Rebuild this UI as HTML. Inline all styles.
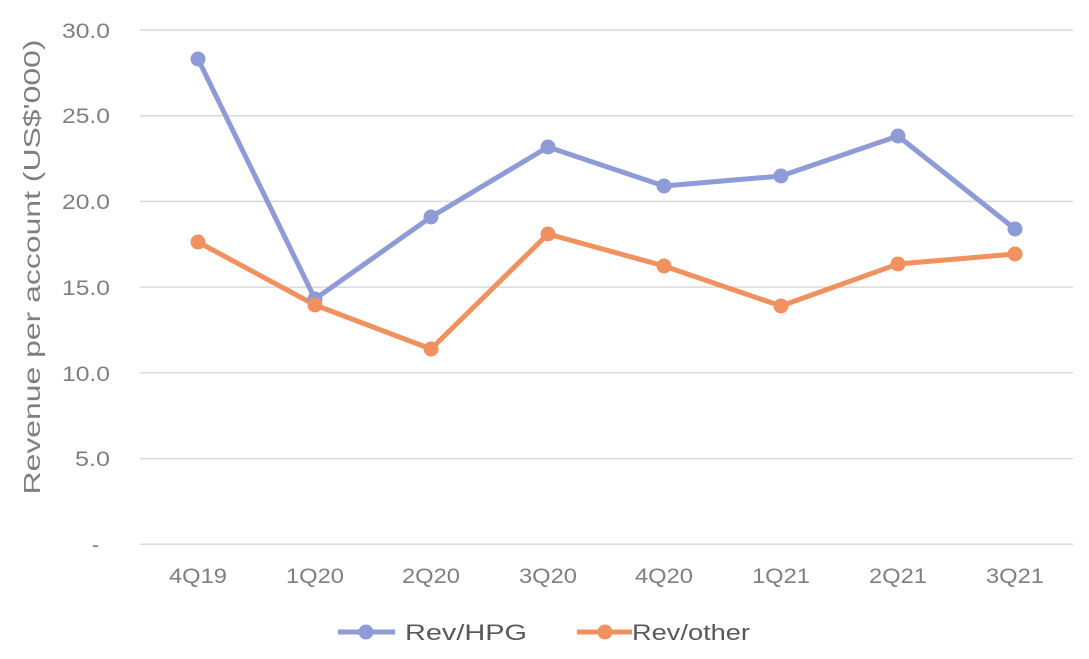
<!DOCTYPE html>
<html><head><meta charset="utf-8"><style>
html,body{margin:0;padding:0;background:#fff;}
svg{display:block;font-family:"Liberation Sans",Arial,sans-serif;}
</style></head><body>
<svg width="1089" height="659" viewBox="0 0 1089 659">
<g stroke="#d9d9d9" stroke-width="1.5">
<line x1="140" x2="1073" y1="30" y2="30"/>
<line x1="140" x2="1073" y1="115.7" y2="115.7"/>
<line x1="140" x2="1073" y1="201.4" y2="201.4"/>
<line x1="140" x2="1073" y1="287.1" y2="287.1"/>
<line x1="140" x2="1073" y1="372.9" y2="372.9"/>
<line x1="140" x2="1073" y1="458.6" y2="458.6"/>
<line x1="140" x2="1073" y1="544.3" y2="544.3"/>
</g>
<g fill="#7f7f7f" font-size="21">
<text x="62" y="38" textLength="48" lengthAdjust="spacingAndGlyphs">30.0</text>
<text x="62" y="123" textLength="48" lengthAdjust="spacingAndGlyphs">25.0</text>
<text x="62" y="209" textLength="48" lengthAdjust="spacingAndGlyphs">20.0</text>
<text x="62" y="295" textLength="48" lengthAdjust="spacingAndGlyphs">15.0</text>
<text x="62" y="381" textLength="48" lengthAdjust="spacingAndGlyphs">10.0</text>
<text x="75" y="466" textLength="35" lengthAdjust="spacingAndGlyphs">5.0</text>
<text x="92" y="552">-</text>
</g>
<g fill="#7f7f7f" font-size="21" text-anchor="middle">
<text x="198" y="583" textLength="58" lengthAdjust="spacingAndGlyphs">4Q19</text>
<text x="315" y="583" textLength="58" lengthAdjust="spacingAndGlyphs">1Q20</text>
<text x="431" y="583" textLength="58" lengthAdjust="spacingAndGlyphs">2Q20</text>
<text x="548" y="583" textLength="58" lengthAdjust="spacingAndGlyphs">3Q20</text>
<text x="664" y="583" textLength="58" lengthAdjust="spacingAndGlyphs">4Q20</text>
<text x="781" y="583" textLength="58" lengthAdjust="spacingAndGlyphs">1Q21</text>
<text x="898" y="583" textLength="58" lengthAdjust="spacingAndGlyphs">2Q21</text>
<text x="1015" y="583" textLength="58" lengthAdjust="spacingAndGlyphs">3Q21</text>
</g>
<text transform="translate(40,267) rotate(-90)" fill="#7f7f7f" font-size="23" text-anchor="middle" textLength="455" lengthAdjust="spacingAndGlyphs">Revenue per account  (US$'000)</text>
<polyline fill="none" stroke="#8e9bd6" stroke-width="5" stroke-linejoin="round" points="198,59 315,299 431,217 548,147 664,186 781,176 898,136 1015,229"/>
<polyline fill="none" stroke="#f0915f" stroke-width="5" stroke-linejoin="round" points="198,242 315,305 431,349 548,234 664,266 781,306 898,264 1015,254"/>
<g fill="#8e9bd6">
<circle cx="198" cy="59" r="7.5"/><circle cx="315" cy="299" r="7.5"/><circle cx="431" cy="217" r="7.5"/><circle cx="548" cy="147" r="7.5"/><circle cx="664" cy="186" r="7.5"/><circle cx="781" cy="176" r="7.5"/><circle cx="898" cy="136" r="7.5"/><circle cx="1015" cy="229" r="7.5"/>
</g>
<g fill="#f0915f">
<circle cx="198" cy="242" r="7.5"/><circle cx="315" cy="305" r="7.5"/><circle cx="431" cy="349" r="7.5"/><circle cx="548" cy="234" r="7.5"/><circle cx="664" cy="266" r="7.5"/><circle cx="781" cy="306" r="7.5"/><circle cx="898" cy="264" r="7.5"/><circle cx="1015" cy="254" r="7.5"/>
</g>
<line x1="338" x2="395" y1="632" y2="632" stroke="#8e9bd6" stroke-width="5"/>
<circle cx="366" cy="632" r="7.5" fill="#8e9bd6"/>
<text x="405" y="640" fill="#595959" font-size="22" textLength="122" lengthAdjust="spacingAndGlyphs">Rev/HPG</text>
<line x1="577" x2="632" y1="632" y2="632" stroke="#f0915f" stroke-width="5"/>
<circle cx="605" cy="632" r="7.5" fill="#f0915f"/>
<text x="632" y="640" fill="#595959" font-size="22" textLength="118" lengthAdjust="spacingAndGlyphs">Rev/other</text>
</svg>
</body></html>
